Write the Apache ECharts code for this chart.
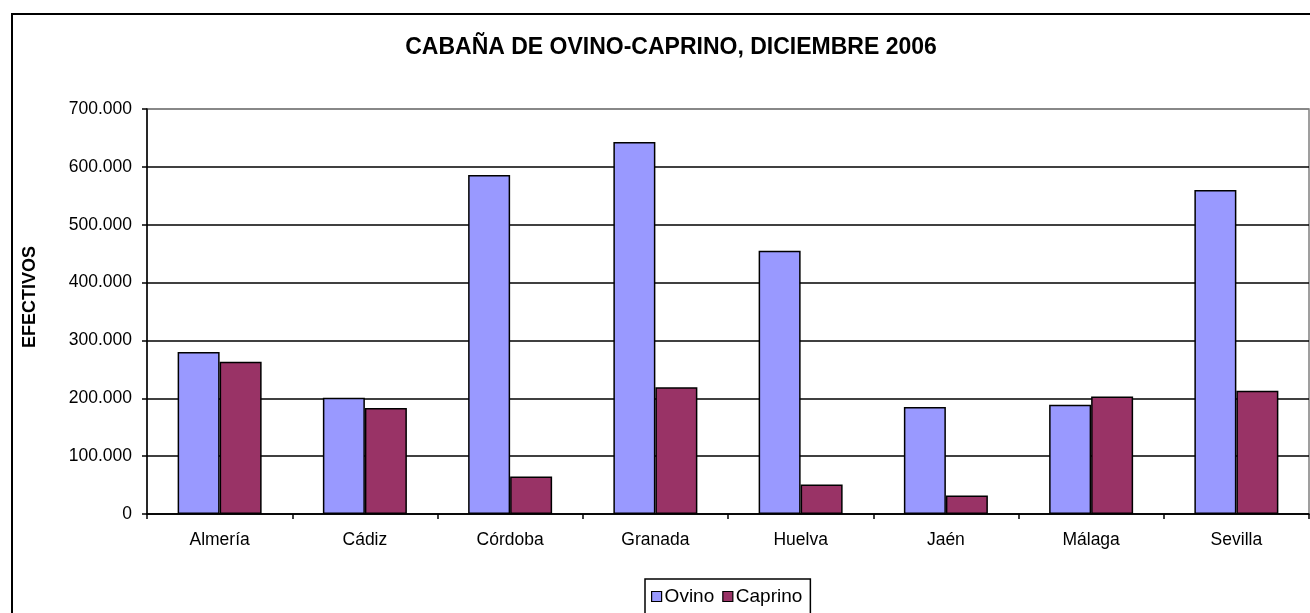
<!DOCTYPE html>
<html>
<head>
<meta charset="utf-8">
<script src="https://cdn.jsdelivr.net/npm/echarts@6/dist/echarts.min.js"></script>
<style>
  html, body { margin: 0; padding: 0; background: #fff; }
  #chart1 { width: 1310px; height: 613px; }
</style>
</head>
<body>
<div id="chart1"></div>
<script>
// datos
var provincias = ['Almería', 'Cádiz', 'Córdoba', 'Granada', 'Huelva', 'Jaén', 'Málaga', 'Sevilla'];
var ovino = [280000, 201000, 586000, 643000, 455000, 185000, 189000, 560000];
var caprino = [263000, 183000, 65000, 219000, 51000, 32000, 203000, 213000];
var yTicks = [0, 100000, 200000, 300000, 400000, 500000, 600000, 700000];

var fuente = "'Liberation Sans', Arial, sans-serif";

//formato de miles con punto
function miles(v) {
    return String(v).replace(/\B(?=(\d{3})+(?!\d))/g, '.');
}

var chart = echarts.init(document.getElementById('chart1'));

var option = {
    animation: false,
    backgroundColor: '#fff',
    graphic: [
        {
            type: 'rect',
            shape: { x: 12, y: 14, width: 1400, height: 800 },
            style: { fill: 'none', stroke: '#000', lineWidth: 2 },
            silent: true
        },
        {
            type: 'text',
            x: 671, y: 48,
            style: {
                text: 'CABAÑA DE OVINO-CAPRINO, DICIEMBRE 2006',
                fill: '#000', font: 'bold 23px ' + fuente,
                textAlign: 'center', textVerticalAlign: 'middle'
            }
        },
        {
            type: 'text',
            x: 30, y: 297,
            rotation: Math.PI / 2,
            style: {
                text: 'EFECTIVOS',
                fill: '#000', font: 'bold 18px ' + fuente,
                textAlign: 'center', textVerticalAlign: 'middle'
            }
        }
    ],
    legend: {
        data: ['Ovino', 'Caprino'],
        left: 645, top: 579,
        orient: 'horizontal',
        padding: [8, 8, 8, 6],
        itemGap: 8,
        itemWidth: 10, itemHeight: 10,
        icon: 'rect',
        borderColor: '#000', borderWidth: 1.5,
        itemStyle: { borderColor: '#000', borderWidth: 1.2 },
        textStyle: { color: '#000', fontSize: 19, fontFamily: fuente, padding: [0, 0, 0, -2] }
    },
    grid: {
        left: 147, right: 1, top: 109, bottom: 99,
        show: true, borderColor: '#808080', borderWidth: 1.5,
        backgroundColor: 'transparent'
    },
    xAxis: {
        type: 'category',
        data: provincias,
        boundaryGap: true,
        axisLine: { lineStyle: { color: '#000', width: 1.5 } },
        axisTick: { show: true, length: 5, lineStyle: { color: '#000', width: 1.5 } },
        axisLabel: { color: '#000', fontSize: 17.5, fontFamily: fuente, margin: 17 },
        splitLine: { show: false }
    },
    yAxis: {
        type: 'value',
        min: yTicks[0], max: yTicks[yTicks.length - 1], interval: 100000,
        axisLine: { show: true, lineStyle: { color: '#000', width: 1.5 } },
        axisTick: { show: true, length: 5, lineStyle: { color: '#000', width: 1.5 } },
        axisLabel: { color: '#000', fontSize: 17.5, fontFamily: fuente, margin: 15, formatter: miles },
        splitLine: {
            show: true,
            lineStyle: { color: ['#000', '#000', '#000', '#000', '#000', '#000', '#000', '#808080'], width: 1.5 }
        }
    },
    series: [
        {
            name: 'Ovino', type: 'bar', data: ovino,
            barWidth: 42, barGap: '0%',
            itemStyle: { color: '#9999FF', borderColor: '#000', borderWidth: 1.5 }
        },
        {
            name: 'Caprino', type: 'bar', data: caprino,
            barWidth: 42, barGap: '0%',
            itemStyle: { color: '#993366', borderColor: '#000', borderWidth: 1.5 }
        }
    ]
};

chart.setOption(option, true);
</script>
</body>
</html>
